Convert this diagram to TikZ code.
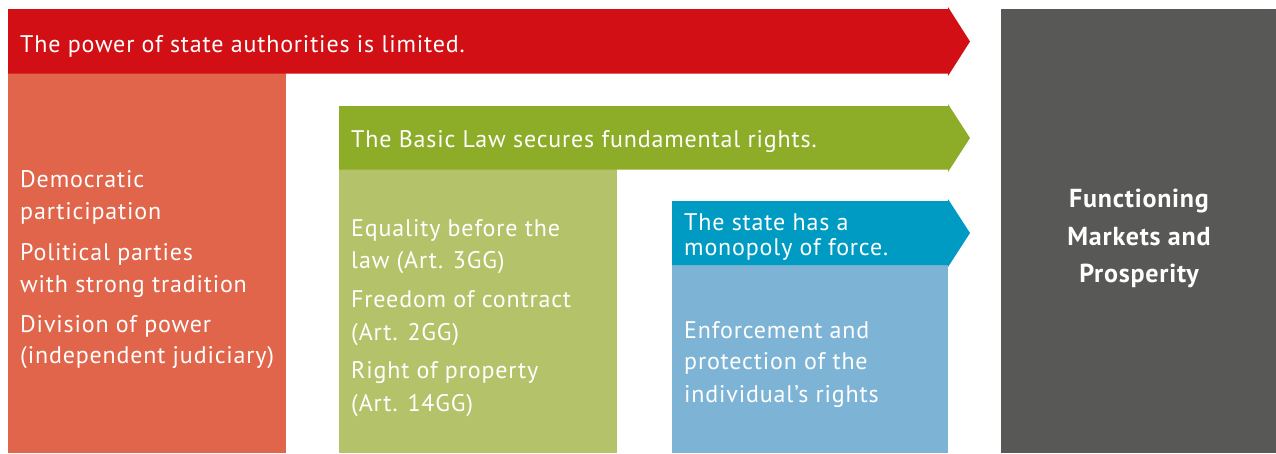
\documentclass[tikz,border=0pt]{standalone}
\usepackage{fontspec}
\setmainfont{PT Sans}
\newfontfamily\labelfont[LetterSpace=3.5]{PT Sans}
\newfontfamily\headfont[LetterSpace=3]{PT Sans}
\definecolor{powerred}{HTML}{D20F14}
\definecolor{powerlight}{HTML}{E0654A}
\definecolor{lawgreen}{HTML}{8DAC28}
\definecolor{lawlight}{HTML}{B4C36A}
\definecolor{forceblue}{HTML}{009BC3}
\definecolor{forcelight}{HTML}{7DB4D6}
\definecolor{marketgrey}{HTML}{585857}
\tikzset{
  txt/.style={anchor=base west, inner sep=0pt, text=white,
    font=\labelfont\fontsize{24}{28}\selectfont},
  headtxt/.style={anchor=base, inner sep=0pt, text=white,
    font=\headfont\bfseries\fontsize{26}{30}\selectfont},
}
\begin{document}
\begin{tikzpicture}[x=1pt,y=-1pt]
  \useasboundingbox (0,0) rectangle (1276,453);
  % lower panels
  \fill[powerlight] (8,73) rectangle (286,453);
  \fill[lawlight] (339,169) rectangle (617,453);
  \fill[forcelight] (672,265) rectangle (948,453);
  \fill[marketgrey] (1001,9) rectangle (1276,453);
  % arrow banners
  \fill[powerred] (8,9) -- (948,9) -- (948,7) -- (970,41.5) -- (948,76) -- (948,73.5) -- (8,73.5) -- cycle;
  \fill[lawgreen] (339,106) -- (948,106) -- (948,104) -- (970,138) -- (948,172) -- (948,169.5) -- (339,169.5) -- cycle;
  \fill[forceblue] (672,201) -- (948,201) -- (948,199) -- (970,233) -- (948,267) -- (948,265) -- (672,265) -- cycle;
  % banner texts
  \node[txt] (t1) at (20,52) {The power of state authorities is limited.};
  \node[txt] (t2) at (351,147) {The Basic Law secures fundamental rights.};
  \node[txt] (t3a) at (684,230) {The state has a};
  \node[txt] (t3b) at (684,255) {monopoly of force.};
  % red column
  \node[txt] (r1) at (20,187) {Democratic};
  \node[txt] (r2) at (20,219) {participation};
  \node[txt] (r3) at (20,260) {Political parties};
  \node[txt] (r4) at (20,292) {with strong tradition};
  \node[txt] (r5) at (20,332) {Division of power};
  \node[txt] (r6) at (20,363) {(independent judiciary)};
  % green column
  \node[txt] (g1) at (351,236) {Equality before the};
  \node[txt] (g2) at (351,268) {law (Art. 3GG)};
  \node[txt] (g3) at (351,307) {Freedom of contract};
  \node[txt] (g4) at (351,340) {(Art. 2GG)};
  \node[txt] (g5) at (351,378) {Right of property};
  \node[txt] (g6) at (351,411) {(Art. 14GG)};
  % blue column
  \node[txt] (b1) at (684,338) {Enforcement and};
  \node[txt] (b2) at (684,369) {protection of the};
  \node[txt] (b3) at (684,402) {individual’s rights};
  % result
  \node[headtxt] (m1) at (1139,207) {Functioning};
  \node[headtxt] (m2) at (1139,245) {Markets and};
  \node[headtxt] (m3) at (1139,282) {Prosperity};
\end{tikzpicture}
\end{document}
